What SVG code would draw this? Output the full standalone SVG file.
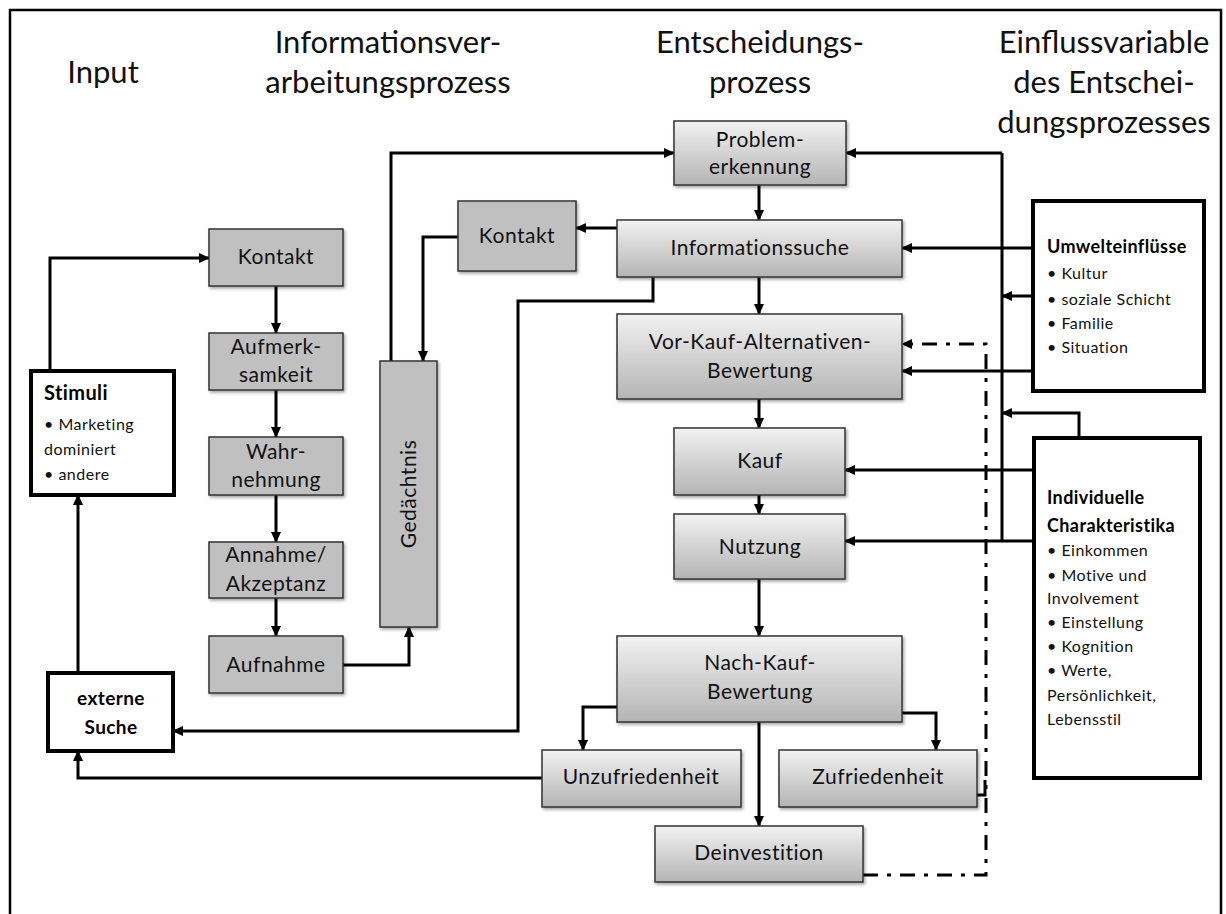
<svg xmlns="http://www.w3.org/2000/svg" width="1226" height="914" viewBox="0 0 1226 914">
  <defs>
    <linearGradient id="boxGrad" x1="0" y1="0" x2="0" y2="1">
      <stop offset="0" stop-color="#f2f2f2"/>
      <stop offset="1" stop-color="#b4b4b4"/>
    </linearGradient>
    <filter id="shadow" x="-10%" y="-10%" width="130%" height="140%">
      <feDropShadow dx="1.5" dy="2" stdDeviation="1.5" flood-color="#000" flood-opacity="0.35"/>
    </filter>
    <marker id="arrow" markerUnits="userSpaceOnUse" markerWidth="11" markerHeight="10" refX="10" refY="5" orient="auto">
      <path d="M0,0 L11,5 L0,10 Z" fill="#000"/>
    </marker>
    <style>
      .frame { fill: none; stroke: #000; stroke-width: 2.5; }
      .head { font-family: Lato, "Liberation Sans", sans-serif; font-size: 31px; fill: #111; text-anchor: middle; }
      .flat { fill: #c0c0c0; stroke: #333; stroke-width: 1.5; filter: url(#shadow); }
      .grad { fill: url(#boxGrad); stroke: #333; stroke-width: 1.5; filter: url(#shadow); }
      .side { fill: #fff; stroke: #000; stroke-width: 4; }
      .lbl { font-family: Lato, "Liberation Sans", sans-serif; font-size: 21px; fill: #111; text-anchor: middle; letter-spacing: 0.5px; }
      .st { font-family: Lato, "Liberation Sans", sans-serif; font-size: 16px; fill: #111; letter-spacing: 0.5px; }
      .stb { font-family: Lato, "Liberation Sans", sans-serif; font-size: 18px; font-weight: bold; fill: #000; letter-spacing: 0.4px; }
      .conn path { fill: none; stroke: #000; stroke-width: 3; }
      .conn .arr { marker-end: url(#arrow); }
      .conn .dd { stroke-dasharray: 15 9 4 9; }
    </style>
  </defs>

  <rect width="1226" height="914" fill="#fff"/>
  <rect class="frame" x="10" y="10" width="1211" height="910"/>

  <!-- column headings -->
  <g id="headings">
    <text class="head" x="103" y="83">Input</text>
    <text class="head" x="388" y="53">Informationsver-</text>
    <text class="head" x="388" y="93">arbeitungsprozess</text>
    <text class="head" x="760" y="53">Entscheidungs-</text>
    <text class="head" x="760" y="93">prozess</text>
    <text class="head" x="1104" y="53">Einflussvariable</text>
    <text class="head" x="1104" y="93">des Entschei-</text>
    <text class="head" x="1104" y="133">dungsprozesses</text>
  </g>

  <!-- connectors -->
  <g id="connectors" class="conn">
    <!-- input side -->
    <path class="arr" d="M50,371 V258 H209"/>
    <path class="arr" d="M78,673 V495"/>
    <path class="arr" d="M542,778 H78 V751"/>
    <path class="arr" d="M653,277 V301 H518 V731 H173"/>
    <!-- information processing chain -->
    <path class="arr" d="M276,286 V333"/>
    <path class="arr" d="M276,390 V437"/>
    <path class="arr" d="M276,495 V542"/>
    <path class="arr" d="M276,598 V636"/>
    <path class="arr" d="M342,665 H409 V627"/>
    <path class="arr" d="M391,361 V153 H674"/>
    <path class="arr" d="M617,228 H576"/>
    <path class="arr" d="M458,237 H423 V361"/>
    <!-- decision chain -->
    <path class="arr" d="M759,185 V220"/>
    <path class="arr" d="M759,277 V314"/>
    <path class="arr" d="M759,399 V428"/>
    <path class="arr" d="M759,495 V514"/>
    <path class="arr" d="M759,579 V636"/>
    <path class="arr" d="M617,707 H583 V750"/>
    <path class="arr" d="M902,713 H936 V750"/>
    <path class="arr" d="M759,722 V826"/>
    <!-- influence variables -->
    <path d="M1002,541 V153"/>
    <path class="arr" d="M1002,153 H846"/>
    <path class="arr" d="M1033,248 H902"/>
    <path class="arr" d="M1033,296 H1002"/>
    <path class="arr" d="M1033,371 H902"/>
    <path class="arr" d="M1079,438 V413 H1002"/>
    <path class="arr" d="M1034,470 H845"/>
    <path class="arr" d="M1034,541 H845"/>
    <!-- feedback from divestment -->
    <path class="arr dd" d="M863,875 H986 V344 H902"/>
    <path d="M977,795 H985 V780"/>
  </g>

  <!-- input -->
  <g id="stimuli">
    <rect class="side" x="31" y="371" width="143" height="124"/>
    <text class="stb" x="44" y="400" style="font-size:20px">Stimuli</text>
    <text class="st" x="44" y="430">• Marketing</text>
    <text class="st" x="44" y="455">dominiert</text>
    <text class="st" x="44" y="480">• andere</text>
  </g>
  <g id="externe-suche">
    <rect class="side" x="48" y="673" width="125" height="78"/>
    <text class="stb" x="111" y="705" text-anchor="middle" style="font-size:19px">externe</text>
    <text class="stb" x="111" y="734" text-anchor="middle" style="font-size:19px">Suche</text>
  </g>

  <!-- information processing -->
  <g id="kontakt-1">
    <rect class="flat" x="209" y="229" width="134" height="57"/>
    <text class="lbl" x="276" y="264">Kontakt</text>
  </g>
  <g id="aufmerksamkeit">
    <rect class="flat" x="209" y="333" width="134" height="57"/>
    <text class="lbl" x="276" y="354">Aufmerk-</text>
    <text class="lbl" x="276" y="382">samkeit</text>
  </g>
  <g id="wahrnehmung">
    <rect class="flat" x="209" y="437" width="134" height="58"/>
    <text class="lbl" x="276" y="459">Wahr-</text>
    <text class="lbl" x="276" y="487">nehmung</text>
  </g>
  <g id="annahme">
    <rect class="flat" x="209" y="542" width="134" height="56"/>
    <text class="lbl" x="276" y="562">Annahme/</text>
    <text class="lbl" x="276" y="591">Akzeptanz</text>
  </g>
  <g id="aufnahme">
    <rect class="flat" x="209" y="636" width="134" height="57"/>
    <text class="lbl" x="276" y="672">Aufnahme</text>
  </g>
  <g id="gedaechtnis">
    <rect class="flat" x="380" y="361" width="57" height="266"/>
    <text class="lbl" transform="translate(416,494) rotate(-90)" x="0" y="0">Gedächtnis</text>
  </g>
  <g id="kontakt-2">
    <rect class="flat" x="458" y="201" width="118" height="70"/>
    <text class="lbl" x="517" y="243">Kontakt</text>
  </g>

  <!-- decision process -->
  <g id="problemerkennung">
    <rect class="grad" x="674" y="121" width="172" height="64"/>
    <text class="lbl" x="760" y="147">Problem-</text>
    <text class="lbl" x="760" y="174">erkennung</text>
  </g>
  <g id="informationssuche">
    <rect class="grad" x="617" y="220" width="285" height="57"/>
    <text class="lbl" x="760" y="255">Informationssuche</text>
  </g>
  <g id="vorkauf">
    <rect class="grad" x="617" y="314" width="285" height="85"/>
    <text class="lbl" x="760" y="349">Vor-Kauf-Alternativen-</text>
    <text class="lbl" x="760" y="378">Bewertung</text>
  </g>
  <g id="kauf">
    <rect class="grad" x="674" y="428" width="171" height="67"/>
    <text class="lbl" x="760" y="468">Kauf</text>
  </g>
  <g id="nutzung">
    <rect class="grad" x="674" y="514" width="171" height="65"/>
    <text class="lbl" x="760" y="554">Nutzung</text>
  </g>
  <g id="nachkauf">
    <rect class="grad" x="617" y="636" width="285" height="86"/>
    <text class="lbl" x="760" y="670">Nach-Kauf-</text>
    <text class="lbl" x="760" y="699">Bewertung</text>
  </g>
  <g id="unzufriedenheit">
    <rect class="grad" x="542" y="750" width="199" height="57"/>
    <text class="lbl" x="641" y="784">Unzufriedenheit</text>
  </g>
  <g id="zufriedenheit">
    <rect class="grad" x="779" y="750" width="198" height="57"/>
    <text class="lbl" x="878" y="784">Zufriedenheit</text>
  </g>
  <g id="deinvestition">
    <rect class="grad" x="655" y="826" width="208" height="56"/>
    <text class="lbl" x="759" y="860">Deinvestition</text>
  </g>

  <!-- influence variables -->
  <g id="umwelteinfluesse">
    <rect class="side" x="1033" y="201" width="171" height="190"/>
    <text class="stb" x="1047" y="253">Umwelteinflüsse</text>
    <text class="st" x="1047" y="279">• Kultur</text>
    <text class="st" x="1047" y="305">• soziale Schicht</text>
    <text class="st" x="1047" y="329">• Familie</text>
    <text class="st" x="1047" y="353">• Situation</text>
  </g>
  <g id="individuelle">
    <rect class="side" x="1034" y="438" width="166" height="340"/>
    <text class="stb" x="1047" y="504">Individuelle</text>
    <text class="stb" x="1047" y="532">Charakteristika</text>
    <text class="st" x="1047" y="556">• Einkommen</text>
    <text class="st" x="1047" y="581">• Motive und</text>
    <text class="st" x="1047" y="604">Involvement</text>
    <text class="st" x="1047" y="628">• Einstellung</text>
    <text class="st" x="1047" y="652">• Kognition</text>
    <text class="st" x="1047" y="676">• Werte,</text>
    <text class="st" x="1047" y="701">Persönlichkeit,</text>
    <text class="st" x="1047" y="725">Lebensstil</text>
  </g>
</svg>
